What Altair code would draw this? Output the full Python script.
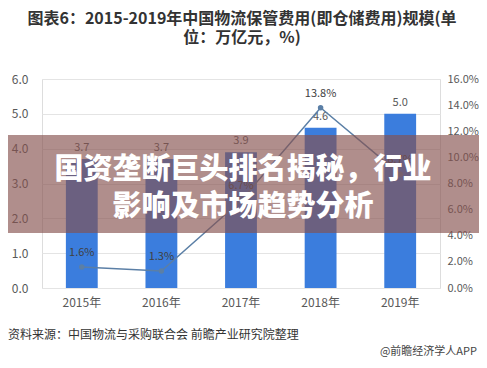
import altair as alt
import pandas as pd

years = ["2015年", "2016年", "2017年", "2018年", "2019年"]
cost = [3.7, 3.7, 3.9, 4.6, 5.0]
growth = [0.016, 0.013, 0.067, 0.138, 0.087]
growth_labels = ["1.6%", "1.3%", "6.7%", "13.8%", "8.7%"]
left_ticks = [0, 1, 2, 3, 4, 5, 6]
right_ticks = [0, 0.02, 0.04, 0.06, 0.08, 0.10, 0.12, 0.14, 0.16]

title_lines = ["图表6：2015-2019年中国物流保管费用(即仓储费用)规模(单", "位：万亿元，%)"]
banner_lines = ["国资垄断巨头排名揭秘，行业", "影响及市场趋势分析"]
source_text = "资料来源：中国物流与采购联合会 前瞻产业研究院整理"
credit_text = "@前瞻经济学人APP"

FONT = "Noto Sans CJK SC"

df = pd.DataFrame({"year": years, "cost": cost, "growth": growth, "glabel": growth_labels})
one = pd.DataFrame({"k": [0]})

W, H = 398, 209
PL, PT, PR, PB = 34, 71, 39, 70

xaxis = alt.Axis(title=None, labelAngle=0, labelFont=FONT, labelFontSize=12,
                 labelColor="#595959", labelPadding=9, domain=False, ticks=False)
xscale = alt.Scale(paddingInner=0.6, paddingOuter=0.3)

yaxis_l = alt.Axis(title=None, values=left_ticks, format=".1f",
                   labelFont=FONT, labelFontSize=12, labelColor="#595959",
                   labelOverlap=False, labelPadding=14, domain=False, ticks=False,
                   gridColor="#e4e4e4")
yscale_l = alt.Scale(domain=[0, 6])

yaxis_r = alt.Axis(title=None, orient="right", format=".1%", values=right_ticks,
                   labelFont=FONT, labelFontSize=11, labelColor="#595959",
                   labelOverlap=False, labelPadding=7, domain=False, ticks=False,
                   grid=False)
yscale_r = alt.Scale(domain=[0, 0.16])

def X():
    return alt.X("year:N", sort=years, scale=xscale, axis=xaxis)

base = alt.Chart(df)

bars = base.mark_bar(color="#3b7ddd").encode(
    x=X(), y=alt.Y("cost:Q", scale=yscale_l, axis=yaxis_l))
bar_labels = base.mark_text(dy=-11, font=FONT, fontSize=11, color="#595959").encode(
    x=X(), y=alt.Y("cost:Q", scale=yscale_l, axis=yaxis_l),
    text=alt.Text("cost:Q", format=".1f"))

left = alt.layer(bars, bar_labels)

line = base.mark_line(color="#5b7fa6", strokeWidth=1.5).encode(
    x=X(), y=alt.Y("growth:Q", scale=yscale_r, axis=yaxis_r))
points = base.mark_circle(color="#5b7fa6", size=30, opacity=1).encode(
    x=X(), y=alt.Y("growth:Q", scale=yscale_r, axis=yaxis_r))
line_labels = base.mark_text(dy=-14, font=FONT, fontSize=11, color="#404040").encode(
    x=X(), y=alt.Y("growth:Q", scale=yscale_r, axis=yaxis_r), text="glabel:N")

right = alt.layer(line, points, line_labels)

overlay = alt.Chart(one).mark_rect(color="rgb(134,81,78)", opacity=0.65).encode(
    x=alt.value(-PL), x2=alt.value(W + PR), y=alt.value(56), y2=alt.value(154))

banner1 = alt.Chart(one).mark_text(text=banner_lines[0], font=FONT, fontSize=29,
                                   fontWeight=900, color="white", align="center",
                                   baseline="middle").encode(x=alt.value(201), y=alt.value(91))
banner2 = alt.Chart(one).mark_text(text=banner_lines[1], font=FONT, fontSize=29,
                                   fontWeight=900, color="white", align="center",
                                   baseline="middle").encode(x=alt.value(201), y=alt.value(128))

title1 = alt.Chart(one).mark_text(text=title_lines[0], font=FONT, fontSize=16,
                                  fontWeight="bold", color="#333333", align="center",
                                  baseline="middle").encode(x=alt.value(200), y=alt.value(-60))
title2 = alt.Chart(one).mark_text(text=title_lines[1], font=FONT, fontSize=16,
                                  fontWeight="bold", color="#333333", align="center",
                                  baseline="middle").encode(x=alt.value(200), y=alt.value(-41))

src = alt.Chart(one).mark_text(text=source_text, font=FONT, fontSize=12,
                               color="#333333", align="left",
                               baseline="middle").encode(x=alt.value(-PL), y=alt.value(256))
credit = alt.Chart(one).mark_text(text=credit_text, font=FONT, fontSize=11,
                                  color="#444444", align="right",
                                  baseline="middle").encode(x=alt.value(W + PR - 2), y=alt.value(273))

chart = alt.layer(left, right, overlay, banner1, banner2, title1, title2, src, credit).resolve_scale(
    y="independent"
).properties(
    width=W, height=H,
    autosize=alt.AutoSizeParams(type="none"),
    padding={"left": PL, "top": PT, "right": PR, "bottom": PB},
).configure_view(stroke=None).configure(background="white")

chart.save("out.html", embed_options={"renderer": "svg", "actions": False})
